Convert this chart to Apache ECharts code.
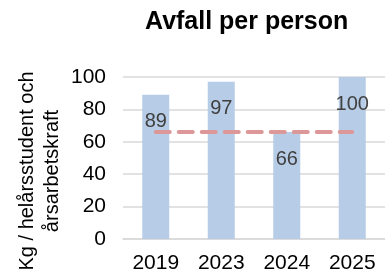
<!DOCTYPE html>
<html>
<head>
<meta charset="utf-8">
<script src="https://cdn.jsdelivr.net/npm/echarts@6/dist/echarts.min.js"></script>
<style>
  html, body { margin: 0; padding: 0; background: #fff; }
  #chart { width: 385px; height: 274px; }
</style>
</head>
<body>
<div id="chart"></div>
<script>
const years = ["2019", "2023", "2024", "2025"];
const wastePerPerson = [89, 97, 66, 100];
const targetLine = [66, 66, 66, 66];
const yTicks = { min: 0, max: 100, interval: 20 };

const font = "'Liberation Sans', Arial, sans-serif";
const chart = echarts.init(document.getElementById("chart"));

chart.setOption({
  animation: false,
  title: {
    text: "Avfall per person",
    left: 145,
    top: 10,
    padding: 0,
    textStyle: { fontFamily: font, fontSize: 25, fontWeight: "bold", color: "#000" }
  },
  grid: { left: 123, right: -11, top: 77, bottom: 33, containLabel: false },
  xAxis: {
    type: "category",
    data: years,
    axisTick: { show: false },
    axisLine: { lineStyle: { color: "#d9d9d9", width: 1.5 } },
    axisLabel: { fontFamily: font, fontSize: 21, color: "#000", margin: 14 }
  },
  yAxis: {
    type: "value",
    min: yTicks.min,
    max: yTicks.max,
    interval: yTicks.interval,
    axisLine: { show: false },
    axisTick: { show: false },
    splitLine: { lineStyle: { color: "#d9d9d9", width: 1.5 } },
    axisLabel: { fontFamily: font, fontSize: 21, color: "#000", margin: 17 }
  },
  graphic: [{
    type: "text",
    x: 40,
    y: 171,
    rotation: Math.PI / 2,
    style: {
      text: "Kg / helårsstudent och\nårsarbetskraft",
      font: "20px " + font,
      fill: "#000",
      align: "center",
      verticalAlign: "middle",
      lineHeight: 25
    }
  }],
  series: [
    {
      type: "bar",
      data: wastePerPerson,
      barWidth: 27,
      itemStyle: { color: "#b7cce6" },
      label: {
        show: true,
        position: "insideTop",
        distance: 17,
        fontFamily: font,
        fontSize: 20,
        color: "#404040"
      }
    },
    {
      type: "line",
      data: targetLine,
      symbol: "none",
      z: 5,
      lineStyle: { color: "#dc9898", width: 4, type: [14, 9], cap: "round" }
    }
  ]
});
</script>
</body>
</html>
